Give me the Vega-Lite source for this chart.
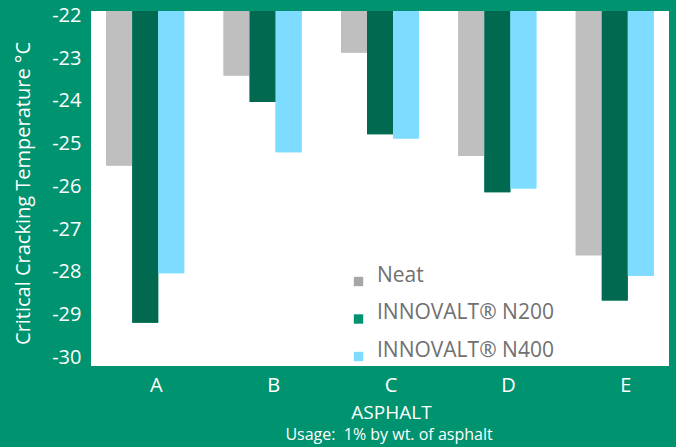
{
  "$schema": "https://vega.github.io/schema/vega-lite/v6.json",
  "width": 578,
  "height": 355,
  "autosize": {"type": "none"},
  "padding": {"left": 91, "top": 11, "right": 7, "bottom": 81},
  "background": "#00936F",
  "config": {"view": {"fill": "white", "stroke": null}, "font": "Open Sans"},
  "title": {
    "text": "Usage:\u00a0 1% by wt. of asphalt",
    "orient": "bottom",
    "anchor": "middle",
    "frame": "group",
    "dx": 9,
    "offset": 5,
    "fontSize": 16,
    "fontWeight": "normal",
    "color": "white",
    "font": "Open Sans"
  },
  "data": {
    "values": [
      {"asphalt": "A", "series": "Neat", "value": -25.51},
      {"asphalt": "A", "series": "INNOVALT® N200", "value": -29.19},
      {"asphalt": "A", "series": "INNOVALT® N400", "value": -28.03},
      {"asphalt": "B", "series": "Neat", "value": -23.41},
      {"asphalt": "B", "series": "INNOVALT® N200", "value": -24.03},
      {"asphalt": "B", "series": "INNOVALT® N400", "value": -25.2},
      {"asphalt": "C", "series": "Neat", "value": -22.87},
      {"asphalt": "C", "series": "INNOVALT® N200", "value": -24.78},
      {"asphalt": "C", "series": "INNOVALT® N400", "value": -24.88},
      {"asphalt": "D", "series": "Neat", "value": -25.29},
      {"asphalt": "D", "series": "INNOVALT® N200", "value": -26.14},
      {"asphalt": "D", "series": "INNOVALT® N400", "value": -26.05},
      {"asphalt": "E", "series": "Neat", "value": -27.61},
      {"asphalt": "E", "series": "INNOVALT® N200", "value": -28.67},
      {"asphalt": "E", "series": "INNOVALT® N400", "value": -28.09}
    ]
  },
  "encoding": {
    "x": {
      "field": "asphalt",
      "type": "nominal",
      "scale": {"paddingInner": 0.336, "paddingOuter": 0.13},
      "axis": {
        "title": "ASPHALT",
        "labelAngle": 0,
        "labelFontSize": 20,
        "labelColor": "white",
        "labelPadding": 9,
        "ticks": false,
        "tickSize": 0,
        "domain": false,
        "labelOffset": 11,
        "titleFontSize": 19,
        "titleColor": "white",
        "titleFontWeight": "normal",
        "titleX": 300,
        "titleY": 52,
        "titleBaseline": "alphabetic"
      }
    },
    "xOffset": {
      "field": "series",
      "type": "nominal",
      "sort": ["Neat", "INNOVALT® N200", "INNOVALT® N400"],
      "scale": {"paddingInner": 0, "paddingOuter": 0}
    },
    "y": {
      "field": "value",
      "type": "quantitative",
      "scale": {"domain": [-30.2, -21.9], "nice": false, "zero": false},
      "axis": {
        "values": [-22, -23, -24, -25, -26, -27, -28, -29, -30],
        "labelExpr": "'-' + abs(datum.value)",
        "grid": false,
        "ticks": false,
        "tickSize": 0,
        "domain": false,
        "labelFontSize": 20,
        "labelColor": "white",
        "labelPadding": 10,
        "title": "Critical Cracking Temperature °C",
        "titleFontSize": 20,
        "titleColor": "white",
        "titleFontWeight": "normal",
        "titleX": -62,
        "titleY": 182,
        "titleAngle": -90,
        "titleAlign": "center",
        "titleBaseline": "alphabetic"
      }
    },
    "y2": {"datum": -21.9}
  },
  "layer": [
    {
      "mark": {"type": "bar"},
      "encoding": {
        "color": {
          "field": "series",
          "type": "nominal",
          "scale": {
            "domain": ["Neat", "INNOVALT® N200", "INNOVALT® N400"],
            "range": ["#A6A6A6", "#00936F", "#7DDCFF"]
          },
          "legend": {
            "title": null,
            "orient": "none",
            "legendX": 257,
            "legendY": 260,
            "symbolType": "square",
            "symbolSize": 88,
            "symbolStrokeWidth": 0,
            "labelFontSize": 21,
            "labelColor": "#707070",
            "labelFont": "Open Sans",
            "labelBaseline": "alphabetic",
            "labelOffset": 8,
            "labelLimit": 300,
            "rowPadding": 14.5,
            "padding": 0
          }
        }
      }
    },
    {
      "mark": {"type": "bar"},
      "encoding": {
        "fill": {
          "field": "series",
          "type": "nominal",
          "scale": {
            "domain": ["Neat", "INNOVALT® N200", "INNOVALT® N400"],
            "range": ["#BFBFBF", "#00694F", "#7DDCFF"]
          },
          "legend": null
        }
      }
    }
  ]
}
